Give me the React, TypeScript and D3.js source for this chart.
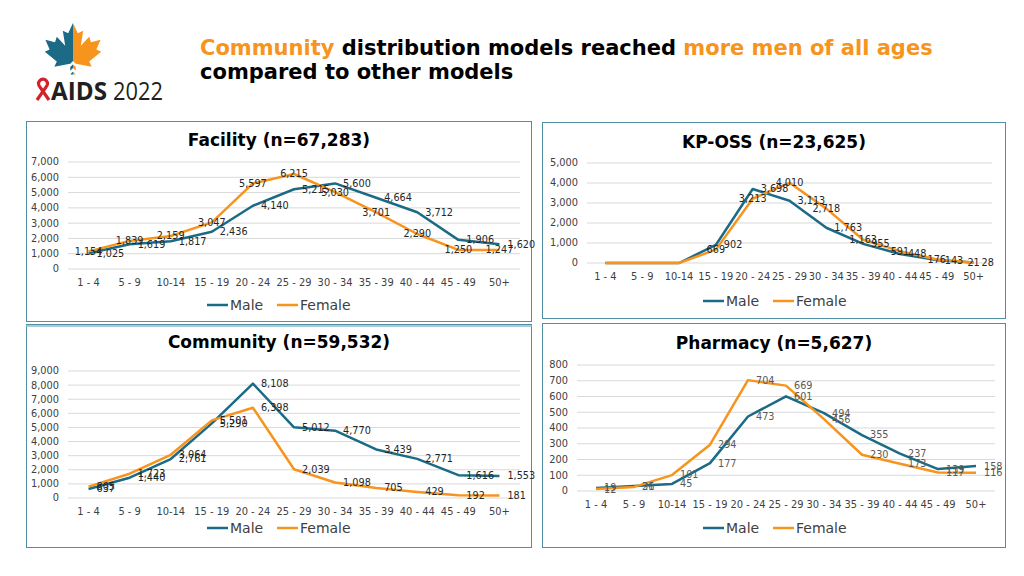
import React from "react";
import * as d3 from "d3";

const ageGroups = ["1 - 4", "5 - 9", "10-14", "15 - 19", "20 - 24", "25 - 29", "30 - 34", "35 - 39", "40 - 44", "45 - 49", "50+"];

const facilityMale = [1025, 1619, 1817, 2436, 4140, 5215, 5600, 4664, 3712, 1906, 1620];
const facilityFemale = [1154, 1839, 2159, 3047, 5597, 6215, 5030, 3701, 2290, 1250, 1247];
const kpMale = [0, 0, 0, 902, 3698, 3113, 1763, 955, 448, 143, 28];
const kpFemale = [0, 0, 0, 669, 3213, 4010, 2718, 1163, 591, 176, 21];
const communityMale = [637, 1440, 2761, 5290, 8108, 5012, 4770, 3439, 2771, 1616, 1553];
const communityFemale = [805, 1723, 3064, 5501, 6398, 2039, 1098, 705, 429, 192, 181];
const pharmacyMale = [19, 31, 45, 177, 473, 601, 494, 355, 237, 139, 158];
const pharmacyFemale = [12, 26, 101, 294, 704, 669, 456, 230, 173, 117, 116];

const facilityTicks = [0, 1000, 2000, 3000, 4000, 5000, 6000, 7000];
const kpTicks = [0, 1000, 2000, 3000, 4000, 5000];
const communityTicks = [0, 1000, 2000, 3000, 4000, 5000, 6000, 7000, 8000, 9000];
const pharmacyTicks = [0, 100, 200, 300, 400, 500, 600, 700, 800];

const seriesNames = ["Male", "Female"];

const MALE = "#1b6a86";
const FEMALE = "#f7941d";
const FONT = "'DejaVu Sans', Verdana, sans-serif";
const fmt = d3.format(",");

type Panel = {
  title: string;
  male: number[];
  female: number[];
  ticks: number[];
  box: [number, number, number, number];
  titleY: number;
  x0: number;
  x1: number;
  yZero: number;
  yTop: number;
  femaleCentered: boolean;
  labelColor: string;
  legendX: number;
  legendY: number;
  doubleTop?: boolean;
};

const panels: Panel[] = [
  {
    title: "Facility (n=67,283)", male: facilityMale, female: facilityFemale, ticks: facilityTicks,
    box: [26.5, 121.5, 505, 200], titleY: 140, x0: 68, x1: 520, yZero: 269, yTop: 162,
    femaleCentered: true, labelColor: "#262626", legendX: 207, legendY: 305,
  },
  {
    title: "KP-OSS (n=23,625)", male: kpMale, female: kpFemale, ticks: kpTicks,
    box: [542.5, 122.5, 463, 196], titleY: 142, x0: 587, x1: 992, yZero: 263, yTop: 163,
    femaleCentered: true, labelColor: "#262626", legendX: 703, legendY: 301,
  },
  {
    title: "Community (n=59,532)", male: communityMale, female: communityFemale, ticks: communityTicks,
    box: [26.5, 324.5, 505, 223], titleY: 342, x0: 68, x1: 520, yZero: 498, yTop: 371,
    femaleCentered: false, labelColor: "#262626", legendX: 207, legendY: 528, doubleTop: true,
  },
  {
    title: "Pharmacy (n=5,627)", male: pharmacyMale, female: pharmacyFemale, ticks: pharmacyTicks,
    box: [542.5, 323.5, 463, 224], titleY: 343, x0: 577, x1: 995, yZero: 491, yTop: 365,
    femaleCentered: false, labelColor: "#595959", legendX: 703, legendY: 528,
  },
];

function ChartPanel({ p }: { p: Panel }) {
  const x = d3.scalePoint<string>().domain(ageGroups).range([p.x0, p.x1]).padding(0.5);
  const y = d3.scaleLinear().domain([0, d3.max(p.ticks) as number]).range([p.yZero, p.yTop]);
  const line = d3
    .line<number>()
    .x((_, i) => x(ageGroups[i]) as number)
    .y((d) => y(d));
  const [bx, by, bw, bh] = p.box;
  const cx = bx + bw / 2;
  return (
    <g>
      <rect x={bx} y={by} width={bw} height={bh} fill="#fff" stroke="#4f8ea3" strokeWidth={1} />
      {p.doubleTop && <line x1={bx} x2={bx + bw} y1={by + 1.5} y2={by + 1.5} stroke="#a9cbd6" strokeWidth={2} />}
      <text x={cx} y={p.titleY} textAnchor="middle" dy="0.35em" fontFamily={FONT} fontWeight="bold" fontSize={17} fill="#000">
        {p.title}
      </text>
      {p.ticks.map((t) => (
        <g key={t}>
          <line x1={p.x0} x2={p.x1} y1={y(t)} y2={y(t)} stroke="#d9d9d9" strokeWidth={1} />
          <text x={p.x0 - 9} y={y(t)} dy="0.35em" textAnchor="end" fontFamily={FONT} fontSize={9.8} fill="#404040">
            {fmt(t)}
          </text>
        </g>
      ))}
      {ageGroups.map((a) => (
        <text key={a} x={x(a)} y={p.yZero + 13.5} dy="0.35em" textAnchor="middle" fontFamily={FONT} fontSize={9.9} fill="#404040">
          {a}
        </text>
      ))}
      <path d={line(p.male) || ""} fill="none" stroke={MALE} strokeWidth={2.5} strokeLinejoin="round" />
      <path d={line(p.female) || ""} fill="none" stroke={FEMALE} strokeWidth={2.5} strokeLinejoin="round" />
      {p.male.map((v, i) =>
        v === 0 ? null : (
          <text key={"m" + i} x={(x(ageGroups[i]) as number) + 8} y={y(v)} dy="0.35em" textAnchor="start" fontFamily={FONT} fontSize={9.7} fill={p.labelColor}>
            {fmt(v)}
          </text>
        )
      )}
      {p.female.map((v, i) =>
        v === 0 ? null : (
          <text
            key={"f" + i}
            x={(x(ageGroups[i]) as number) + (p.femaleCentered ? 0 : 8)}
            y={y(v)}
            dy="0.35em"
            textAnchor={p.femaleCentered ? "middle" : "start"}
            fontFamily={FONT}
            fontSize={9.7}
            fill={p.labelColor}
          >
            {fmt(v)}
          </text>
        )
      )}
      <g>
        <line x1={p.legendX} x2={p.legendX + 21} y1={p.legendY} y2={p.legendY} stroke={MALE} strokeWidth={2.5} />
        <text x={p.legendX + 23} y={p.legendY} dy="0.35em" fontFamily={FONT} fontSize={14} fill="#404040">
          {seriesNames[0]}
        </text>
        <line x1={p.legendX + 70} x2={p.legendX + 91} y1={p.legendY} y2={p.legendY} stroke={FEMALE} strokeWidth={2.5} />
        <text x={p.legendX + 93} y={p.legendY} dy="0.35em" fontFamily={FONT} fontSize={14} fill="#404040">
          {seriesNames[1]}
        </text>
      </g>
    </g>
  );
}

const leaf =
  "M0,-50 L-8,-33 L-17,-37 L-13,-12 L-27,-27 L-30,-18 L-46,-22 L-39,-6 L-47,-2 L-27,14 L-31,23 L-5,18 L-4,36 L4,36 L5,18 L31,23 L27,14 L47,-2 L39,-6 L46,-22 L30,-18 L27,-27 L13,-12 L17,-37 L8,-33 Z";

function Logo() {
  return (
    <g>
      <defs>
        <clipPath id="leftHalf">
          <rect x={-60} y={-60} width={60} height={120} />
        </clipPath>
        <clipPath id="rightHalf">
          <rect x={0} y={-60} width={60} height={120} />
        </clipPath>
      </defs>
      <g transform="translate(73,53) scale(0.6)">
        <path d={leaf} fill={MALE} clipPath="url(#leftHalf)" />
        <path d={leaf} fill={FEMALE} clipPath="url(#rightHalf)" />
        <path d="M-14,30 L0,16 L14,30" fill="none" stroke="#fff" strokeWidth={4} />
        <path d="M-14,42 L0,28 L14,42" fill="none" stroke="#fff" strokeWidth={4} />
      </g>
      <path d="M37,100 L46,87 A4.5,4.5 0 1 0 40,87 L49,100" fill="none" stroke="#d2232a" strokeWidth={3.2} />
      <text x={51} y={100} fontFamily="'Open Sans', sans-serif" fontSize={25} fontWeight="bold" fill="#231f20" textLength={56} lengthAdjust="spacingAndGlyphs">
        AIDS
      </text>
      <text x={113} y={100} fontFamily="'Open Sans', sans-serif" fontSize={25} fill="#231f20" textLength={50} lengthAdjust="spacingAndGlyphs">
        2022
      </text>
    </g>
  );
}

export default function App() {
  return (
    <svg
      width={1024}
      height={576}
      viewBox="0 0 1024 576"
      style={{ position: "absolute", left: 0, top: 0, display: "block", background: "#fff" }}
    >
      <rect x={0} y={0} width={1024} height={576} fill="#fff" />
      <Logo />
      <text x={200} y={55} fontFamily={FONT} fontWeight="bold" fontSize={21} fill="#000">
        <tspan fill={FEMALE}>Community</tspan>
        <tspan> distribution models reached </tspan>
        <tspan fill={FEMALE}>more men of all ages</tspan>
      </text>
      <text x={200} y={79} fontFamily={FONT} fontWeight="bold" fontSize={21} fill="#000">
        compared to other models
      </text>
      {panels.map((p) => (
        <ChartPanel key={p.title} p={p} />
      ))}
    </svg>
  );
}
